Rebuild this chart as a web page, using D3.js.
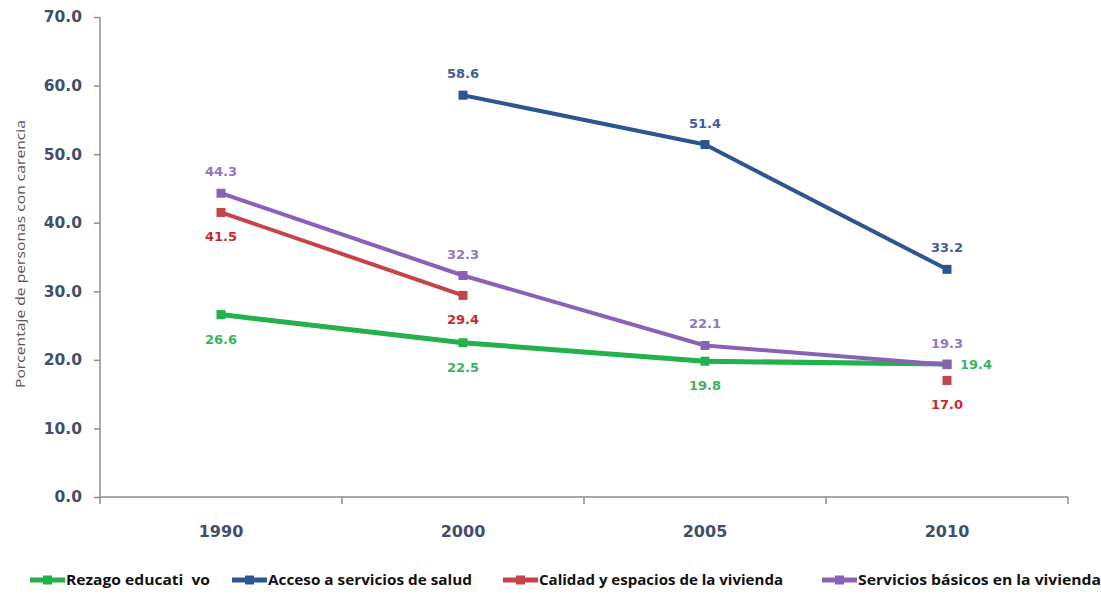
<!DOCTYPE html>
<html lang="es">
<head>
<meta charset="UTF-8">
<title>Carencias sociales</title>
<style>
    body { margin: 0; background: #fff; }
    svg { font-family: "Open Sans", "Liberation Sans", Arial, sans-serif; }
    .axis path, .axis line { stroke: #8c8c8c; stroke-width: 1.5; }
    .y-axis text { fill: #3e4f6c; font-family: "DejaVu Sans", sans-serif; font-size: 15.5px; font-weight: 700; }
    .x-axis text { fill: #3e4f6c; font-family: "DejaVu Sans", sans-serif; font-size: 16px; font-weight: 700; }
    .label { font-family: "DejaVu Sans", sans-serif; font-size: 13px; font-weight: 700; }
    .legend text { font-size: 13.5px; font-weight: 700; fill: #111; white-space: pre; }
</style>
</head>
<body>
<div id="chart"></div>
<script src="https://cdn.jsdelivr.net/npm/d3@7"></script>
<script>
// datos
var years = ["1990", "2000", "2005", "2010"];
var rezago = [26.6, 22.5, 19.8, 19.4];
var salud = [null, 58.6, 51.4, 33.2];
var calidad = [41.5, 29.4, null, 17.0];
var basicos = [44.3, 32.3, 22.1, 19.3];
var yTicks = [0, 10, 20, 30, 40, 50, 60, 70];

// series: nombre, valores, color, posición de la etiqueta
var series = [
    { name: "Rezago educati  vo", values: rezago, color: "#22b14c", text: "#3ab55c", width: 5, pos: ["below", "below", "below", "right"], lw: 144 },
    { name: "Acceso a servicios de salud", values: salud, color: "#2c5592", text: "#3b5f96", width: 4, pos: ["above", "above", "above", "above"], lw: 204 },
    { name: "Calidad y espacios de la vivienda", values: calidad, color: "#c6434a", text: "#c92a30", width: 4, pos: ["below", "below", "below", "below"], lw: 244 },
    { name: "Servicios básicos en la vivienda", values: basicos, color: "#8962b7", text: "#8f77c2", width: 4, pos: ["above", "above", "above", "above"], lw: 243 }
];

var W = 1101, H = 594;
var svg = d3.select("#chart").append("svg")
    .attr("width", W)
    .attr("height", H);

var x = d3.scaleBand().domain(years).range([100, 1068]);
var y = d3.scaleLinear().domain([0, 70]).range([497, 17]);
var cx = function (d) { return x(d) + x.bandwidth() / 2; };

// eje y
svg.append("g")
    .attr("class", "axis y-axis")
    .attr("transform", "translate(100,0)")
    .call(d3.axisLeft(y).tickValues(yTicks).tickSize(6).tickPadding(12).tickFormat(d3.format(".1f")))
    .call(function (g) { g.select(".domain").attr("d", "M0," + y(70) + "V" + y(0)); });

// eje x con marcas en los bordes de cada categoría
var xAxis = svg.append("g")
    .attr("class", "axis x-axis")
    .attr("transform", "translate(0,497)")
    .call(d3.axisBottom(x).tickSize(0).tickPadding(29));
xAxis.select(".domain").attr("d", "M100,0H1068");
xAxis.selectAll(".edge")
    .data(years.map(function (d) { return x(d); }).concat([x.range()[1]]))
    .enter().append("line")
    .attr("class", "edge")
    .attr("x1", function (d) { return d; })
    .attr("x2", function (d) { return d; })
    .attr("y1", 0)
    .attr("y2", 7);

// título del eje y
svg.append("text")
    .attr("transform", "translate(25,254) rotate(-90)")
    .attr("text-anchor", "middle")
    .attr("font-size", "13px")
    .attr("fill", "#555")
    .attr("textLength", 268)
    .attr("lengthAdjust", "spacingAndGlyphs")
    .text("Porcentaje de personas con carencia");

var line = d3.line()
    .defined(function (d) { return d != null; })
    .x(function (d, i) { return cx(years[i]); })
    .y(function (d) { return y(d); });

series.forEach(function (s) {
    svg.append("path")
        .attr("d", line(s.values))
        .attr("fill", "none")
        .attr("stroke", s.color)
        .attr("stroke-width", s.width)
        .attr("stroke-linejoin", "round");

    var pts = s.values.map(function (v, i) { return { v: v, i: i }; })
        .filter(function (d) { return d.v != null; });

    svg.selectAll(null)
        .data(pts)
        .enter().append("rect")
        .attr("x", function (d) { return cx(years[d.i]) - 4.5; })
        .attr("y", function (d) { return y(d.v) - 4.5; })
        .attr("width", 9)
        .attr("height", 9)
        .attr("fill", s.color);

    svg.selectAll(null)
        .data(pts)
        .enter().append("text")
        .attr("class", "label")
        .attr("fill", s.text)
        .attr("text-anchor", function (d) { return s.pos[d.i] === "right" ? "start" : "middle"; })
        .attr("x", function (d) { return cx(years[d.i]) + (s.pos[d.i] === "right" ? 13 : 0); })
        .attr("y", function (d) {
            var p = s.pos[d.i];
            return y(d.v) + (p === "above" ? -17 : p === "below" ? 29 : 5);
        })
        .text(function (d) { return d.v.toFixed(1); });
});

// leyenda
var legendX = [30, 232, 503, 822];
var legend = svg.append("g").attr("class", "legend");
series.forEach(function (s, i) {
    var g = legend.append("g").attr("transform", "translate(" + legendX[i] + ",580)");
    g.append("line")
        .attr("x1", 0).attr("x2", 35)
        .attr("stroke", s.color)
        .attr("stroke-width", 5);
    g.append("rect")
        .attr("x", 13).attr("y", -4.5)
        .attr("width", 9).attr("height", 9)
        .attr("fill", s.color);
    g.append("text")
        .attr("x", 36)
        .attr("y", 5)
        .attr("textLength", s.lw)
        .attr("lengthAdjust", "spacingAndGlyphs")
        .text(s.name);
});
</script>
</body>
</html>
